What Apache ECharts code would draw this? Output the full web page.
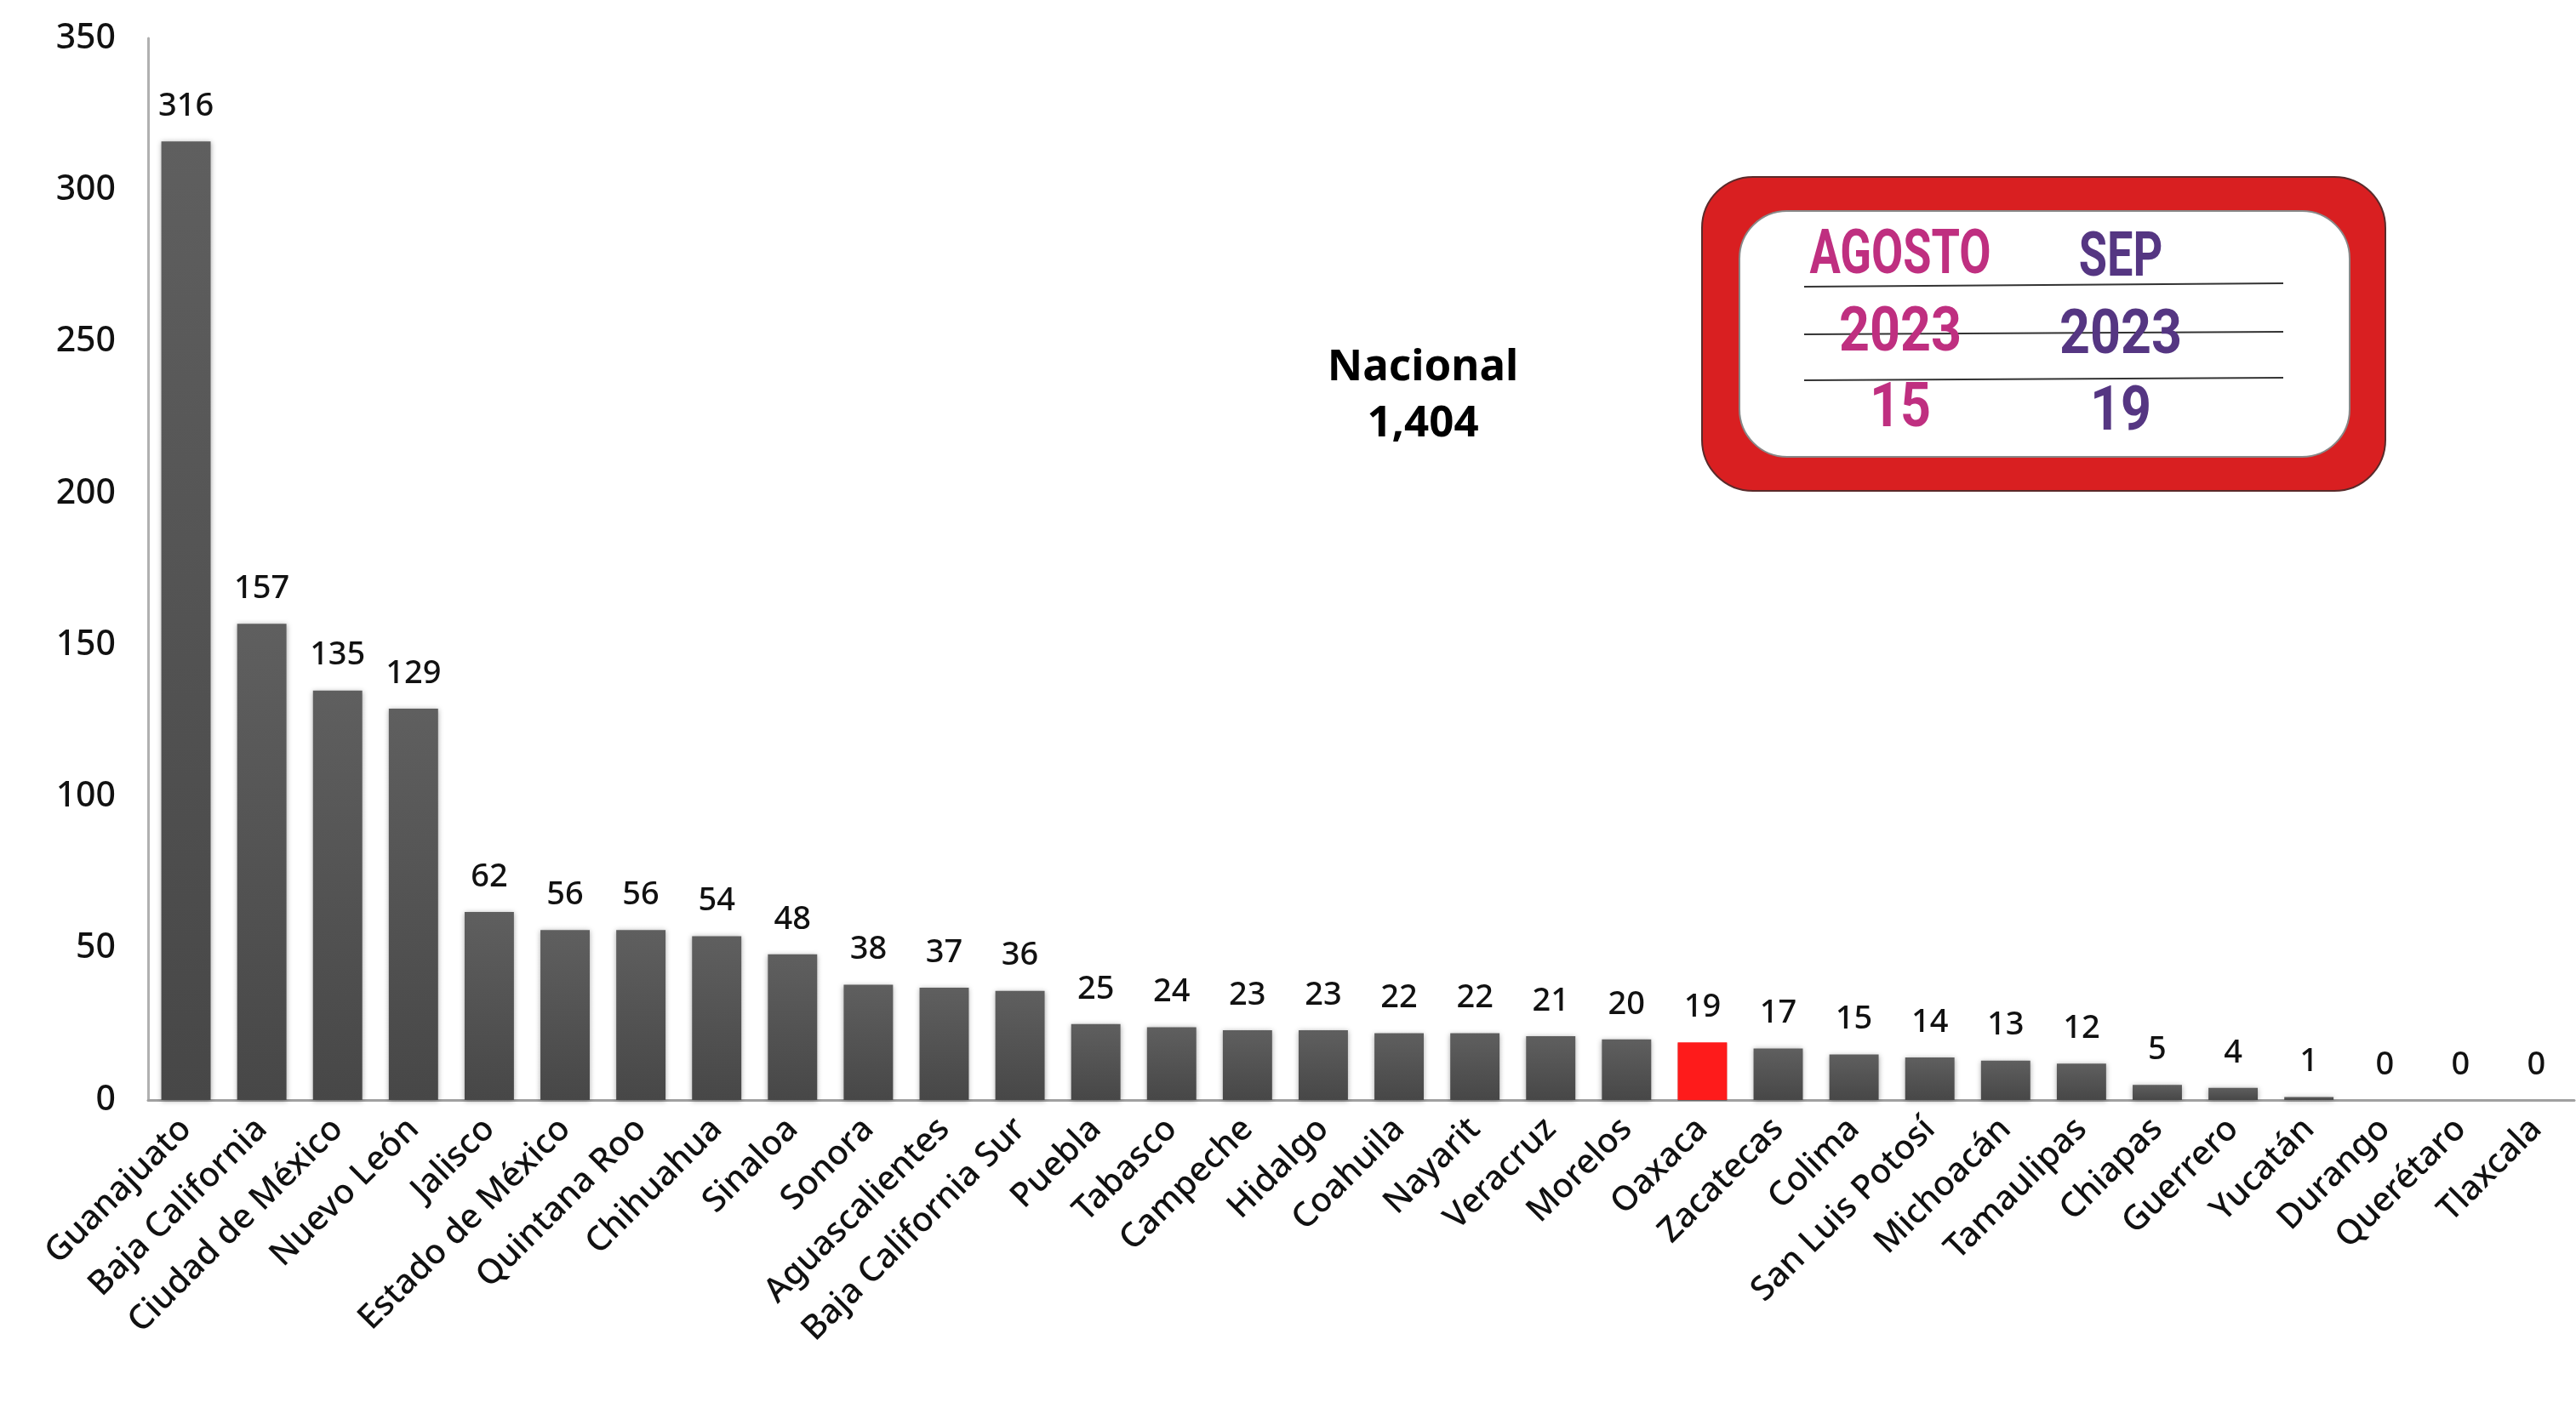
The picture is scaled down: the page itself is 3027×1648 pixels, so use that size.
<!DOCTYPE html>
<html>
<head>
<meta charset="utf-8">
<script src="https://cdn.jsdelivr.net/npm/echarts@6/dist/echarts.min.js"></script>
<style>
  html, body { margin: 0; padding: 0; background: #fff; }
  #chart { width: 3027px; height: 1648px; }
</style>
</head>
<body>
<div id="chart"></div>
<script>
// estados, ordenados de mayor a menor
const estados = [
  'Guanajuato', 'Baja California', 'Ciudad de México', 'Nuevo León', 'Jalisco',
  'Estado de México', 'Quintana Roo', 'Chihuahua', 'Sinaloa', 'Sonora',
  'Aguascalientes', 'Baja California Sur', 'Puebla', 'Tabasco', 'Campeche',
  'Hidalgo', 'Coahuila', 'Nayarit', 'Veracruz', 'Morelos', 'Oaxaca',
  'Zacatecas', 'Colima', 'San Luis Potosí', 'Michoacán', 'Tamaulipas',
  'Chiapas', 'Guerrero', 'Yucatán', 'Durango', 'Querétaro', 'Tlaxcala'
];
const valores = [
  316, 157, 135, 129, 62, 56, 56, 54, 48, 38, 37, 36, 25, 24, 23, 23,
  22, 22, 21, 20, 19, 17, 15, 14, 13, 12, 5, 4, 1, 0, 0, 0
];
const yTicks = [0, 50, 100, 150, 200, 250, 300, 350];
const resaltado = 'Oaxaca';

// recuadro agosto / septiembre
const meses = ['AGOSTO', 'SEP'];
const anios = ['2023', '2023'];
const totalesMes = [15, 19];

const chart = echarts.init(document.getElementById('chart'));

const total = valores.reduce((a, b) => a + b, 0);
const font = '"Noto Sans", sans-serif';
const condensed = 'Roboto, "Liberation Sans", sans-serif';
const colMagenta = '#bf2f80';
const colMorado = '#553682';
const colX = [2233, 2492];

const grisBarra = new echarts.graphic.LinearGradient(0, 0, 0, 1, [
  { offset: 0, color: '#5f5f5f' },
  { offset: 1, color: '#474747' }
]);

let barData = valores.map((v, i) => {
  if (estados[i] === resaltado) {
    return { value: v, itemStyle: { color: '#fe1b1b', shadowBlur: 0 } };
  }
  return v;
});

let graphics = [
  {
    type: 'text',
    x: 1672, y: 465,
    style: {
      text: 'Nacional\n' + total.toLocaleString('en-US'),
      font: 'bold 51px ' + font,
      fill: '#000',
      textAlign: 'center',
      textVerticalAlign: 'middle',
      lineHeight: 66
    }
  },
  {
    type: 'rect',
    shape: { x: 2000, y: 208, width: 803, height: 369, r: 60 },
    style: { fill: '#d91f21', stroke: '#5a2a2a', lineWidth: 2 }
  },
  {
    type: 'rect',
    shape: { x: 2044, y: 248, width: 717, height: 289, r: 56 },
    style: { fill: '#fff', stroke: '#888', lineWidth: 2 }
  }
];

[[337, 333], [393, 390], [447, 444]].forEach(([y1, y2]) => {
  graphics.push({
    type: 'line',
    shape: { x1: 2120, y1: y1, x2: 2683, y2: y2 },
    style: { stroke: '#333', lineWidth: 2 }
  });
});

const filas = [meses, anios, totalesMes];
const filaY = [[303, 306], [394, 397], [483, 487]];
const filaEscala = [0.74, 0.86, 0.86];
filas.forEach((fila, r) => {
  fila.forEach((t, c) => {
    graphics.push({
      type: 'text',
      x: colX[c], y: filaY[r][c],
      scaleX: filaEscala[r],
      style: {
        text: String(t),
        font: 'bold 73px ' + condensed,
        fill: c === 0 ? colMagenta : colMorado,
        textAlign: 'center',
        textVerticalAlign: 'middle'
      }
    });
  });
});

let option = {
  backgroundColor: '#fff',
  animation: false,
  grid: {
    left: 174,
    right: 2,
    top: 45,
    bottom: 355
  },
  xAxis: {
    type: 'category',
    data: estados,
    axisLine: { lineStyle: { color: '#a0a0a0', width: 3 } },
    axisTick: { show: false },
    axisLabel: {
      interval: 0,
      rotate: 45,
      margin: 28,
      fontSize: 40,
      fontWeight: 500,
      fontFamily: font,
      color: '#111'
    }
  },
  yAxis: {
    type: 'value',
    min: yTicks[0],
    max: yTicks[yTicks.length - 1],
    interval: 50,
    axisLine: { show: true, lineStyle: { color: '#b0b0b0', width: 3 } },
    axisTick: { show: false },
    splitLine: { show: false },
    axisLabel: {
      margin: 38,
      fontSize: 41,
      fontWeight: 500,
      fontFamily: font,
      color: '#111'
    }
  },
  series: [
    {
      type: 'bar',
      data: barData,
      barCategoryGap: '35%',
      itemStyle: {
        color: grisBarra,
        shadowBlur: 6,
        shadowColor: 'rgba(0,0,0,0.35)',
        shadowOffsetY: 1
      },
      label: {
        show: true,
        position: 'top',
        distance: 22,
        fontSize: 38,
        fontWeight: 500,
        fontFamily: font,
        color: '#111'
      }
    }
  ],
  graphic: graphics
};

chart.setOption(option);
</script>
</body>
</html>
